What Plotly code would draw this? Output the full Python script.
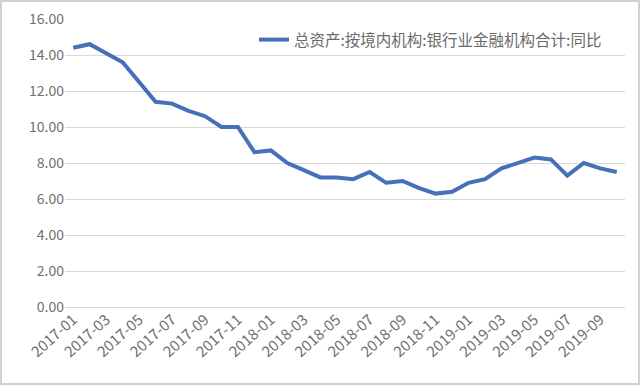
import plotly.graph_objects as go

months = [f"{y}-{m:02d}" for y in (2017, 2018, 2019) for m in range(1, 13)][:34]
values = [14.4, 14.6, 14.1, 13.6, 12.5, 11.4, 11.3, 10.9, 10.6, 10.0, 10.0, 8.6,
          8.7, 8.0, 7.6, 7.2, 7.2, 7.1, 7.5, 6.9, 7.0, 6.6, 6.3, 6.4,
          6.9, 7.1, 7.7, 8.0, 8.3, 8.2, 7.3, 8.0, 7.7, 7.5]
series_name = "总资产:按境内机构:银行业金融机构合计:同比"
tick_vals = months[::2]
y_ticks = [0, 2, 4, 6, 8, 10, 12, 14, 16]

font_family = "Noto Sans CJK SC, Noto Sans, sans-serif"

fig = go.Figure()
fig.add_trace(go.Scatter(x=months, y=values, mode="lines", name=series_name,
                         line=dict(color="#4670B8", width=4)))

fig.update_layout(
    width=640, height=385,
    margin=dict(l=65, r=15, t=19, b=78, autoexpand=False),
    paper_bgcolor="white", plot_bgcolor="white",
    font=dict(family=font_family, color="#707070", size=14),
    showlegend=True,
    legend=dict(x=(607 - 65) / 560, y=1 - (40 - 19) / 288, xanchor="right", yanchor="middle",
                bgcolor="rgba(0,0,0,0)", font=dict(size=15.5, color="#6a6a6a"),
                itemwidth=30),
    xaxis=dict(type="category", categoryorder="array", categoryarray=months,
               range=[-0.5, 33.5], tickmode="array", tickvals=tick_vals,
               ticktext=tick_vals, tickangle=-42, showgrid=False,
               showline=False, ticks="", tickfont=dict(size=15), automargin=False),
    yaxis=dict(range=[0, 16], tickvals=y_ticks,
               ticktext=[f"{v:.2f}" for v in y_ticks],
               showgrid=True, gridcolor="#D9D9D9", gridwidth=1,
               zeroline=True, zerolinecolor="#D9D9D9", zerolinewidth=1,
               showline=False, ticks="", tickfont=dict(size=14), automargin=False),
    shapes=[dict(type="rect", xref="paper", yref="paper",
                 x0=-65/560 + 1/560, x1=1 + 15/560 - 1/560,
                 y0=-78/288 + 1/288, y1=1 + 19/288 - 1/288,
                 line=dict(color="#D0D0D0", width=2), layer="below")],
)

fig.write_html("out.html", config={"displayModeBar": False},
               post_script="document.body.style.margin='0px';document.body.style.padding='0px';")
